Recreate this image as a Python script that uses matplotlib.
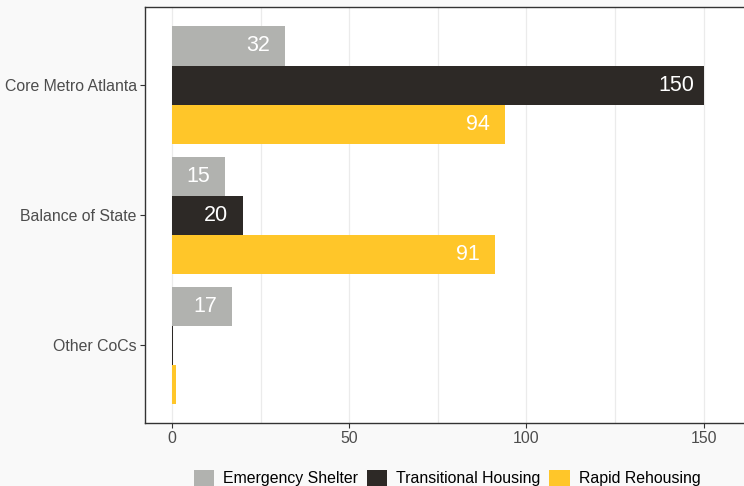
import numpy as np
import matplotlib
matplotlib.use("Agg")
import matplotlib.pyplot as plt
from matplotlib.patches import Patch

plt.rcParams["font.family"] = ["Liberation Sans", "DejaVu Sans"]

# data
regions = ["Core Metro Atlanta", "Balance of State", "Other CoCs"]
series = ["Emergency Shelter", "Transitional Housing", "Rapid Rehousing"]
emergency = [32, 15, 17]
transitional = [150, 20, 0.3]
rapid = [94, 91, 1.1]
colors = ["#B1B2AF", "#2D2926", "#FFC629"]

fig = plt.figure(figsize=(7.44, 4.86), dpi=100)
fig.patch.set_facecolor("#F9F9F9")
ax = fig.add_axes([0.1949, 0.1296, 0.827, 0.856])
ax.set_facecolor("white")

y = np.arange(len(regions))[::-1].astype(float)  # Core on top
h = 0.3
offsets = [h, 0, -h]
for vals, off, col in zip([emergency, transitional, rapid], offsets, colors):
    ax.barh(y + off, vals, height=h, color=col, linewidth=0, zorder=2)
    for yi, v in zip(y, vals):
        if v >= 5:
            ax.text(v - 7.6, yi + off, f"{v:g}", ha="center", va="center",
                    color="white", fontsize=15.5, zorder=3)

ax.set_xlim(-7.63, 166)
ax.set_ylim(y.min() - 0.6, y.max() + 0.6)
ax.set_yticks(y)
ax.set_yticklabels(regions)
ax.set_xticks([0, 50, 100, 150])
ax.set_xticks([25, 75, 125], minor=True)
ax.grid(True, axis="x", which="both", color="#EBEBEB", linewidth=0.9, zorder=0)
ax.tick_params(axis="both", which="major", labelsize=11.4, labelcolor="#4D4D4D",
               color="#333333", length=3.5, width=0.8, pad=2.5)
ax.tick_params(axis="x", which="minor", length=0)
for s in ax.spines.values():
    s.set_color("#333333")
    s.set_linewidth(1.0)

handles = [Patch(facecolor=c, edgecolor="none", label=s) for c, s in zip(colors, series)]
fig.legend(handles=handles, loc="center", bbox_to_anchor=(447 / 744, 8 / 486), ncol=3,
           frameon=False, fontsize=11.4, handlelength=1.27, handleheight=1.27,
           handletextpad=0.57, columnspacing=0.57, borderaxespad=0, borderpad=0)

fig.savefig("out.png", dpi=100, facecolor=fig.get_facecolor())
